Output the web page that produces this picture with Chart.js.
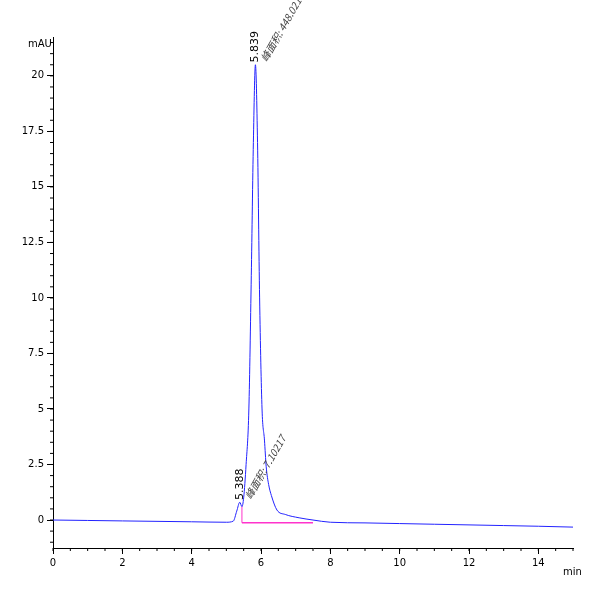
<!DOCTYPE html>
<html><head><meta charset="utf-8">
<script src="https://cdn.jsdelivr.net/npm/chart.js@4/dist/chart.umd.min.js"></script>
<style>body{margin:0;background:#fff}#wrap{width:600px;height:600px}</style>
</head><body><div id="wrap"><canvas id="c"></canvas></div>
<script>
// retention time (min) and signal (mAU)
const times = [0, 1, 2, 3, 4, 5, 5.2, 5.3, 5.388, 5.45, 5.5, 5.57, 5.65, 5.72, 5.78, 5.839, 5.9, 5.96, 6.03, 6.1, 6.15, 6.22, 6.3, 6.46, 6.7, 7.1, 7.5, 8, 9, 10, 11, 12, 13, 14, 15];
const signal = [0, -0.02, -0.04, -0.06, -0.08, -0.1, -0.05, 0.4, 0.8, 0.6, 1.0, 2.5, 5, 11, 17, 20.5, 17, 10, 5, 3.6, 2.4, 1.6, 1.1, 0.45, 0.25, 0.1, 0.0, -0.1, -0.13, -0.16, -0.19, -0.22, -0.25, -0.28, -0.32];
const baselineX = [5.45, 7.5];
const baselineY = [-0.12, -0.12];
const peakLabels = [
  { t: 5.388, y: 0.9, rt: '5.388', area: '峰面积: 7.10217' },
  { t: 5.839, y: 20.6, rt: '5.839', area: '峰面积: 448.021' }
];
const xTicks = [0, 2, 4, 6, 8, 10, 12, 14];
const yTicks = [0, 2.5, 5, 7.5, 10, 12.5, 15, 17.5, 20];

const annot = {
  id: 'annot',
  afterDatasetsDraw(chart) {
    const { ctx, scales: { x, y }, chartArea: a } = chart;
    ctx.save();
    // minor ticks
    ctx.strokeStyle = '#000'; ctx.lineWidth = 1;
    for (let v = 0; v <= 15; v += 0.5) { const px = x.getPixelForValue(v); ctx.beginPath(); ctx.moveTo(px, a.bottom); ctx.lineTo(px, a.bottom + 3); ctx.stroke(); }
    for (let v = -1; v <= 21.5; v += 0.5) { const py = y.getPixelForValue(v); ctx.beginPath(); ctx.moveTo(a.left, py); ctx.lineTo(a.left - 3, py); ctx.stroke(); }
    // drop line at split
    ctx.strokeStyle = '#ff33cc';
    ctx.beginPath(); ctx.moveTo(x.getPixelForValue(5.45), y.getPixelForValue(-0.12)); ctx.lineTo(x.getPixelForValue(5.45), y.getPixelForValue(0.6)); ctx.stroke();
    // unit labels
    ctx.fillStyle = '#000'; ctx.font = '10px "DejaVu Sans"';
    ctx.textAlign = 'left'; ctx.textBaseline = 'middle';
    ctx.fillText('mAU', 28, 44);
    ctx.fillText('min', 563, 572);
    peakLabels.forEach(p => {
      const px = x.getPixelForValue(p.t), py = y.getPixelForValue(p.y);
      ctx.save(); ctx.translate(px, py); ctx.rotate(-Math.PI / 2);
      ctx.font = '11px "DejaVu Sans"'; ctx.fillStyle = '#000';
      ctx.textAlign = 'left'; ctx.textBaseline = 'middle';
      ctx.fillText(p.rt, 0, 0); ctx.restore();
      ctx.save(); ctx.translate(px + 8, py - 2); ctx.rotate(-1.05);
      ctx.font = 'italic 10px "Noto Sans CJK SC"'; ctx.fillStyle = '#444';
      ctx.textAlign = 'left'; ctx.textBaseline = 'middle';
      ctx.fillText(p.area, 0, 0); ctx.restore();
    });
    ctx.restore();
  }
};

new Chart(document.getElementById('c'), {
  type: 'line',
  data: {
    datasets: [
      { data: times.map((t, i) => ({ x: t, y: signal[i] })), borderColor: '#2222ff', borderWidth: 1, pointRadius: 0, tension: 0.35, cubicInterpolationMode: 'monotone' },
      { data: baselineX.map((t, i) => ({ x: t, y: baselineY[i] })), borderColor: '#ff33cc', borderWidth: 1.5, pointRadius: 0 }
    ]
  },
  options: {
    responsive: true, maintainAspectRatio: false, animation: false,
    layout: { padding: { top: 37, right: 27, left: 0, bottom: 0 } },
    plugins: { legend: { display: false }, tooltip: { enabled: false } },
    scales: {
      x: {
        type: 'linear', min: 0, max: 15,
        afterBuildTicks: s => { s.ticks = xTicks.map(v => ({ value: v })); },
        afterFit: s => { s.height = 52; },
        grid: { drawOnChartArea: false, color: '#000', tickLength: 6 },
        border: { color: '#000' },
        ticks: { color: '#000', font: { size: 10, family: 'DejaVu Sans' }, maxRotation: 0 }
      },
      y: {
        min: -1.26, max: 21.75,
        afterBuildTicks: s => { s.ticks = yTicks.map(v => ({ value: v })); },
        afterFit: s => { s.width = 53; },
        grid: { drawOnChartArea: false, color: '#000', tickLength: 6 },
        border: { color: '#000' },
        ticks: { color: '#000', font: { size: 10, family: 'DejaVu Sans' }, callback: v => String(v) }
      }
    }
  },
  plugins: [annot]
});
</script></body></html>
